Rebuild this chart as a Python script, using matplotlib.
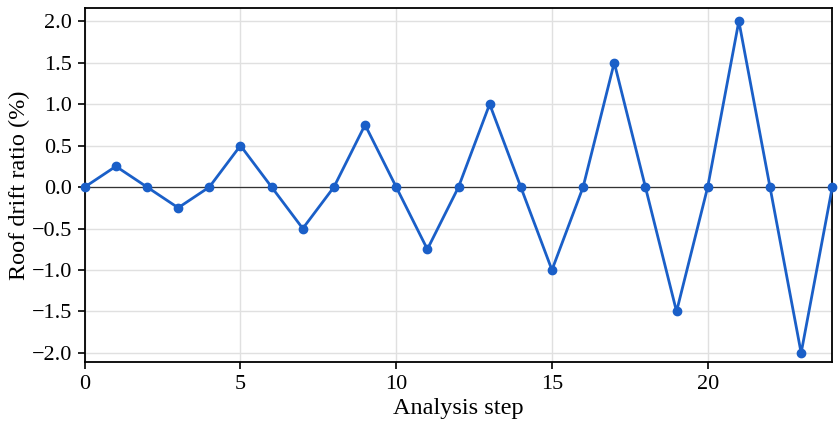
import matplotlib

matplotlib.use("Agg")
import matplotlib.pyplot as plt

# dados: passos de analise e drift do telhado (%)
steps = list(range(25))
drift = [0, 0.25, 0, -0.25, 0, 0.5, 0, -0.5, 0, 0.75, 0, -0.75, 0,
         1.0, 0, -1.0, 0, 1.5, 0, -1.5, 0, 2.0, 0, -2.0, 0]
yticks = [-2.0, -1.5, -1.0, -0.5, 0.0, 0.5, 1.0, 1.5, 2.0]

plt.rcParams["font.family"] = ["Liberation Serif", "DejaVu Serif"]

fig, ax = plt.subplots(figsize=(8.39, 4.28), dpi=100)
fig.subplots_adjust(left=0.101, right=0.992, top=0.981, bottom=0.154)

ax.grid(True, color="#e0e0e0", linewidth=1.0)
ax.set_axisbelow(True)
ax.axhline(0, color="#333333", linewidth=0.9, zorder=1)
ax.plot(steps, drift, color="#1a5fc8", linewidth=2, marker="o",
        markersize=6, zorder=3, clip_on=False)

ax.set_xlim(0, 24)
ax.set_ylim(-2.11, 2.157)
ax.set_yticks(yticks)
ax.set_yticklabels([f"{v:.1f}".replace("-", "\u2212") for v in yticks])
ax.set_xticks([0, 5, 10, 15, 20])
ax.tick_params(labelsize=16, length=5, width=1.2, pad=4)
for s in ax.spines.values():
    s.set_linewidth(1.3)

ax.set_xlabel("Analysis step", fontsize=17.5, labelpad=3)
ax.set_ylabel("Roof drift ratio (%)", fontsize=17.5, labelpad=1.5)

plt.savefig("out.png", dpi=100)
plt.close()
